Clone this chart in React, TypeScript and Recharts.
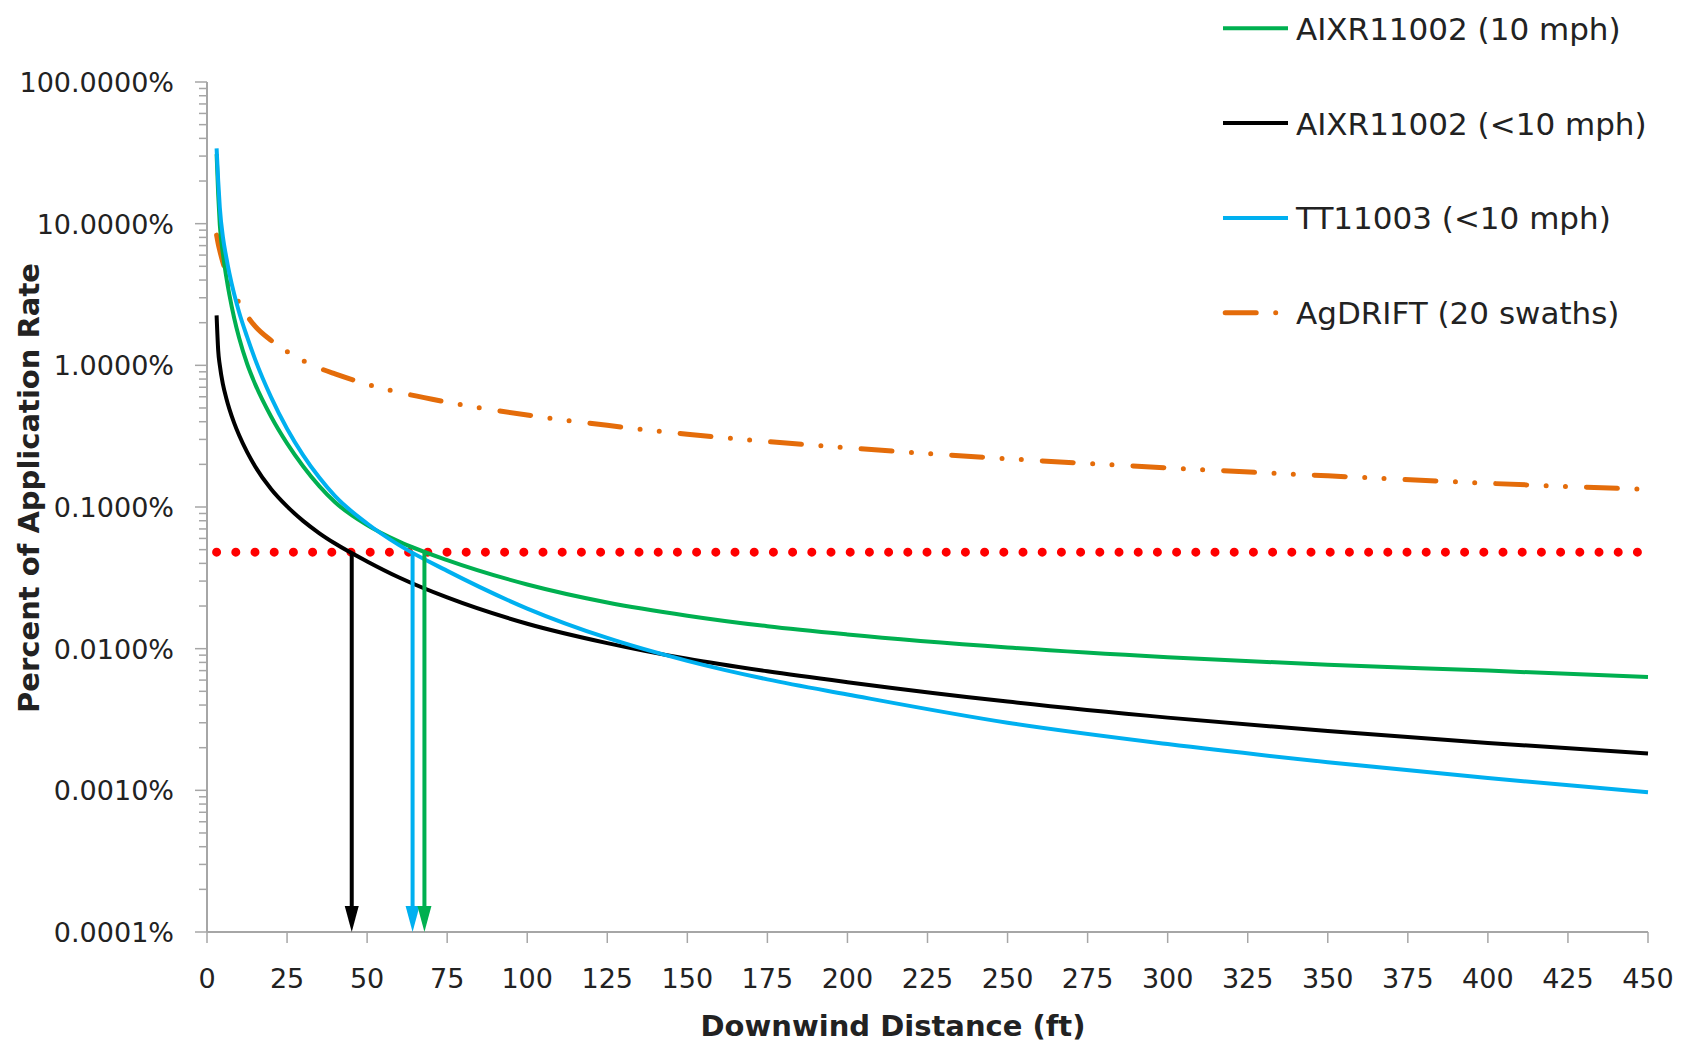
import React from "react";
import { Line, LineChart, XAxis, YAxis } from "recharts";

// downwind distance (ft) shared by the four drift curves
const DIST = [3, 3.5, 4, 5, 6, 7, 8.5, 10, 12.5, 15, 20, 25, 30, 35, 40, 50, 60, 75, 100, 125, 150, 175, 200, 250, 300, 350, 400, 450];

// percent of application rate
const AIXR_10 = [31, 16, 9.8, 6.05, 4.24, 3.14, 2.15, 1.57, 1.03, 0.74, 0.435, 0.281, 0.194, 0.141, 0.108, 0.0745, 0.057, 0.0422, 0.0284, 0.0212, 0.0171, 0.0144, 0.0126, 0.0102, 0.0087, 0.0077, 0.007, 0.0063];
const AIXR_LT10 = [2.25, 1.27, 1.0, 0.73, 0.589, 0.491, 0.391, 0.322, 0.245, 0.194, 0.134, 0.101, 0.0798, 0.0655, 0.0552, 0.0413, 0.0318, 0.023, 0.015, 0.01095, 0.00848, 0.00692, 0.0058, 0.00423, 0.00326, 0.00262, 0.00216, 0.00182];
const TT_LT10 = [34, 20, 13, 7.94, 5.83, 4.45, 3.17, 2.38, 1.595, 1.107, 0.597, 0.357, 0.2327, 0.162, 0.1192, 0.0765, 0.0538, 0.0354, 0.0192, 0.0119, 0.0082, 0.00607, 0.00475, 0.003, 0.00212, 0.00158, 0.00122, 0.00097];
const AGDRIFT = [8.3, 7.23, 6.45, 5.3, 4.51, 3.9, 3.22, 2.76, 2.24, 1.89, 1.5, 1.25, 1.08, 0.957, 0.87, 0.736, 0.645, 0.55, 0.446, 0.377, 0.326, 0.29, 0.262, 0.219, 0.189, 0.166, 0.147, 0.133];

// dotted threshold and the distances where each curve drops below it
const THRESHOLD = 0.048;
const THRESHOLD_SPAN = [3, 450];
const CROSSINGS = [
  { key: "aixrLt10", x: 45.2 },
  { key: "tt", x: 64.2 },
  { key: "aixr10", x: 67.9 },
];
const ARROW_SHAFT_END = 0.00015;

const X_TICKS = [0, 25, 50, 75, 100, 125, 150, 175, 200, 225, 250, 275, 300, 325, 350, 375, 400, 425, 450];
const Y_DECADES = [0.0001, 0.001, 0.01, 0.1, 1, 10, 100];
const Y_MINOR_STEPS = [2, 3, 4, 5, 6, 7, 8, 9];

const SERIES = [
  { key: "aixr10", name: "AIXR11002 (10 mph)", color: "#00B050", width: 4, dash: undefined as string | undefined },
  { key: "aixrLt10", name: "AIXR11002 (<10 mph)", color: "#000000", width: 4, dash: undefined as string | undefined },
  { key: "tt", name: "TT11003 (<10 mph)", color: "#00B0F0", width: 4, dash: undefined as string | undefined },
  { key: "agdrift", name: "AgDRIFT (20 swaths)", color: "#E46C0A", width: 5, dash: "31 19.5 0 19.3 0 21" },
];

const rows = DIST.map((x, i) => ({
  x,
  aixr10: AIXR_10[i],
  aixrLt10: AIXR_LT10[i],
  tt: TT_LT10[i],
  agdrift: AGDRIFT[i],
}));

const thresholdRows = THRESHOLD_SPAN.map((x) => ({ x, y: THRESHOLD }));

const yTicks = Y_DECADES.flatMap((d) =>
  d === 100 ? [d] : [d, ...Y_MINOR_STEPS.map((m) => +(d * m).toPrecision(6))]
);

const FONT = "'DejaVu Sans', sans-serif";
const AXIS = "#A6A6A6";
const TEXT = "#222222";

const isDecade = (v: number) => Math.abs(Math.log10(v) - Math.round(Math.log10(v))) < 1e-9;

function YTick({ x, y, payload }: any) {
  const v = payload.value as number;
  const major = isDecade(v);
  return (
    <g>
      <line x1={x - (major ? 12 : 8)} x2={x} y1={y} y2={y} stroke={AXIS} strokeWidth={1.5} />
      {major && (
        <text x={x - 33} y={y + 10} textAnchor="end" fontFamily={FONT} fontSize={27} fill={TEXT}>
          {v.toFixed(4)}%
        </text>
      )}
    </g>
  );
}

function XTick({ x, y, payload }: any) {
  return (
    <g>
      <line x1={x} x2={x} y1={y} y2={y + 11} stroke={AXIS} strokeWidth={1.5} />
      <text x={x} y={y + 56} textAnchor="middle" fontFamily={FONT} fontSize={27} fill={TEXT}>
        {payload.value}
      </text>
    </g>
  );
}

const arrowHead = (color: string) => (props: any) => {
  const { cx, cy, index } = props;
  if (index !== 1) return <g key={`s${index}`} />;
  return (
    <polygon
      key="tip"
      points={`${cx},${cy + 25} ${cx - 7},${cy - 1} ${cx + 7},${cy - 1}`}
      fill={color}
    />
  );
};

function Legend() {
  return (
    <svg
      width={1681}
      height={340}
      style={{ position: "absolute", left: 0, top: 0, pointerEvents: "none" }}
    >
      {SERIES.map((s, i) => {
        const cy = 28.3 + i * 94.8;
        return (
          <g key={s.key}>
            {s.dash ? (
              <line x1={1225.2} x2={1286} y1={cy} y2={cy} stroke={s.color} strokeWidth={s.width}
                strokeDasharray={s.dash} strokeLinecap="round" />
            ) : (
              <line x1={1223} x2={1288} y1={cy} y2={cy} stroke={s.color} strokeWidth={s.width} />
            )}
            <text x={1296} y={cy + 11.5} fontFamily={FONT} fontSize={31} fill={TEXT}>
              {s.name}
            </text>
          </g>
        );
      })}
    </svg>
  );
}

export default function App() {
  const byKey = Object.fromEntries(SERIES.map((s) => [s.key, s]));
  return (
    <div style={{ position: "absolute", left: 0, top: 0, width: 1681, height: 1042, background: "#fff" }}>
      <LineChart width={1681} height={1042} data={rows} margin={{ top: 82, right: 33, bottom: 0, left: 0 }}>
        <XAxis
          dataKey="x"
          type="number"
          domain={[0, 450]}
          ticks={X_TICKS}
          interval={0}
          height={110}
          tickSize={0}
          tickMargin={0}
          tickLine={false}
          axisLine={{ stroke: AXIS, strokeWidth: 2 }}
          tick={(p: any) => <XTick {...p} />}
          label={{
            content: ({ viewBox }: any) => (
              <text
                x={(viewBox?.x ?? 207) + 686}
                y={(viewBox?.y ?? 932) + 104}
                textAnchor="middle"
                fontFamily={FONT}
                fontWeight="bold"
                fontSize={29}
                fill={TEXT}
              >
                Downwind Distance (ft)
              </text>
            ),
          }}
        />
        <YAxis
          type="number"
          scale="log"
          domain={[0.0001, 100]}
          ticks={yTicks}
          interval={0}
          width={207}
          tickSize={0}
          tickMargin={0}
          tickLine={false}
          axisLine={{ stroke: AXIS, strokeWidth: 2 }}
          tick={(p: any) => <YTick {...p} />}
          label={{
            content: ({ viewBox }: any) => {
              const x = (viewBox?.x ?? 0) + 39;
              const y = (viewBox?.y ?? 82) + 406;
              return (
                <text
                  x={x}
                  y={y}
                  transform={`rotate(-90, ${x}, ${y})`}
                  textAnchor="middle"
                  fontFamily={FONT}
                  fontWeight="bold"
                  fontSize={29}
                  fill={TEXT}
                >
                  Percent of Application Rate
                </text>
              );
            },
          }}
        />
        <Line
          data={thresholdRows}
          dataKey="y"
          stroke="#FF0000"
          strokeWidth={9}
          strokeDasharray="0 19.2"
          strokeLinecap="round"
          dot={false}
          legendType="none"
          isAnimationActive={false}
        />
        {[SERIES[3], SERIES[0], SERIES[1], SERIES[2]].map((s) => (
          <Line
            key={s.key}
            type="monotone"
            dataKey={s.key}
            name={s.name}
            stroke={s.color}
            strokeWidth={s.width}
            strokeDasharray={s.dash}
            strokeLinecap={s.dash ? "round" : "butt"}
            dot={false}
            isAnimationActive={false}
          />
        ))}
        {CROSSINGS.map((c) => (
          <Line
            key={`arrow-${c.key}`}
            data={[
              { x: c.x, y: THRESHOLD },
              { x: c.x, y: ARROW_SHAFT_END },
            ]}
            dataKey="y"
            stroke={byKey[c.key].color}
            strokeWidth={4}
            dot={arrowHead(byKey[c.key].color)}
            legendType="none"
            isAnimationActive={false}
          />
        ))}
      </LineChart>
      <Legend />
    </div>
  );
}
